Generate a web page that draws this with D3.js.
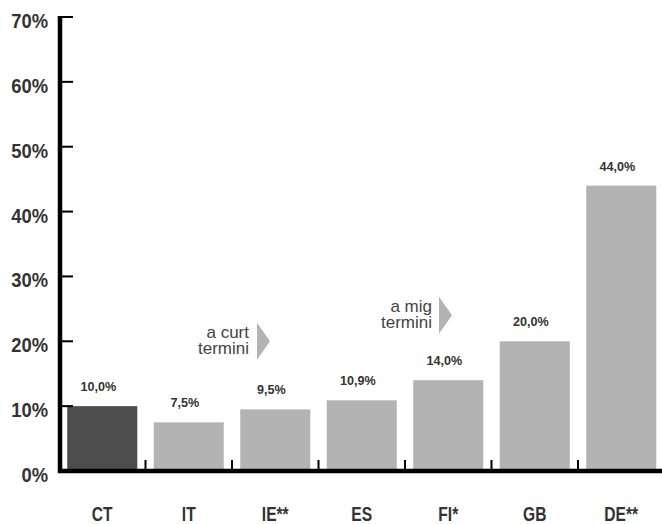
<!DOCTYPE html>
<html><head><meta charset="utf-8">
<script src="https://cdn.jsdelivr.net/npm/d3@7"></script>
<style>
html,body{margin:0;padding:0;background:#fff;}
svg{display:block;}
</style></head>
<body>
<svg id="chart" width="662" height="524"></svg>
<script>
const categories = ["CT","IT","IE**","ES","FI*","GB","DE**"];
const values = [10.0, 7.5, 9.5, 10.9, 14.0, 20.0, 44.0];
const valueLabels = ["10,0%","7,5%","9,5%","10,9%","14,0%","20,0%","44,0%"];
const yTicks = [0,10,20,30,40,50,60,70];
const yTickLabels = ["0%","10%","20%","30%","40%","50%","60%","70%"];
const highlight = ["CT"];
const annotations = [["a curt","termini"],["a mig","termini"]];
const annotationCats = ["IE**","FI*"];

const svg = d3.select("#chart");
const x = d3.scaleBand().domain(categories).range([59, 664.5]).paddingInner(0.19).paddingOuter(0.095);
const y = d3.scaleLinear().domain([0,70]).range([471, 17]);
const textCol = "#333";
const sans = "'Liberation Sans',Arial,sans-serif";

// bars
svg.selectAll("rect.bar").data(categories).join("rect")
  .attr("class","bar")
  .attr("x", d => x(d))
  .attr("width", x.bandwidth())
  .attr("y", (d,i) => y(values[i]))
  .attr("height", (d,i) => y(0) - y(values[i]))
  .attr("fill", d => highlight.includes(d) ? "#4d4d4d" : "#b3b3b3");

// value labels
svg.selectAll("text.val").data(categories).join("text")
  .attr("class","val")
  .attr("transform", (d,i) => `translate(${x(d) + x.bandwidth()/2 - 4},${y(values[i]) - 15}) scale(0.97,1)`)
  .attr("text-anchor","middle")
  .attr("font-family",sans)
  .attr("font-weight","bold")
  .attr("font-size", 13)
  .attr("fill", textCol)
  .text((d,i) => valueLabels[i]);

// y axis line
svg.append("line").attr("x1",60).attr("x2",60).attr("y1",y(70)-1).attr("y2",y(0)+2)
  .attr("stroke","#000").attr("stroke-width",4.5);
// y ticks
svg.selectAll("line.ytick").data(yTicks.filter(v=>v>0)).join("line")
  .attr("class","ytick")
  .attr("x1",60).attr("x2",73)
  .attr("y1", d => y(d)).attr("y2", d => y(d))
  .attr("stroke","#000").attr("stroke-width",2);
// y labels
svg.selectAll("text.ylab").data(yTicks).join("text")
  .attr("class","ylab")
  .attr("transform", d => `translate(48,${y(d) + 11}) scale(0.92,1)`)
  .attr("text-anchor","end")
  .attr("font-family",sans)
  .attr("font-weight","bold")
  .attr("font-size",20)
  .attr("fill",textCol)
  .text((d,i) => yTickLabels[i]);

// x axis line
svg.append("line").attr("x1",58).attr("x2",662).attr("y1",y(0)).attr("y2",y(0))
  .attr("stroke","#000").attr("stroke-width",4.5);
// separator ticks
const half = x.step()*x.paddingInner()/2;
svg.selectAll("line.sep").data(categories.slice(1)).join("line")
  .attr("class","sep")
  .attr("x1", d => x(d) - half).attr("x2", d => x(d) - half)
  .attr("y1", y(0) - 11).attr("y2", y(0))
  .attr("stroke","#000").attr("stroke-width",2);
// x labels
svg.selectAll("text.xlab").data(categories).join("text")
  .attr("class","xlab")
  .attr("transform", d => `translate(${x(d) + x.bandwidth()/2},521) scale(0.8,1)`)
  .attr("text-anchor","middle")
  .attr("font-family",sans)
  .attr("font-weight","bold")
  .attr("font-size",19.5)
  .attr("fill",textCol)
  .text(d => d);

// annotations
const annPos = [{dx:17, tx:25, yv:20}, {dx:27, tx:34, yv:24}];
annotations.forEach((lines, k) => {
  const bx = x(annotationCats[k]) - half;
  const p = annPos[k];
  const cy = y(p.yv);
  const g = svg.append("g");
  lines.forEach((t, j) => {
    g.append("text")
      .attr("x", bx + p.dx)
      .attr("y", cy - 3 + j*16)
      .attr("text-anchor","end")
      .attr("font-family",sans)
      .attr("font-size",17)
      .attr("fill","#444")
      .text(t);
  });
  const tx = bx + p.tx;
  g.append("path")
    .attr("d", `M${tx},${cy-18.5}L${tx+13},${cy}L${tx},${cy+18.5}Z`)
    .attr("fill","#b3b3b3");
});
</script>
</body></html>
